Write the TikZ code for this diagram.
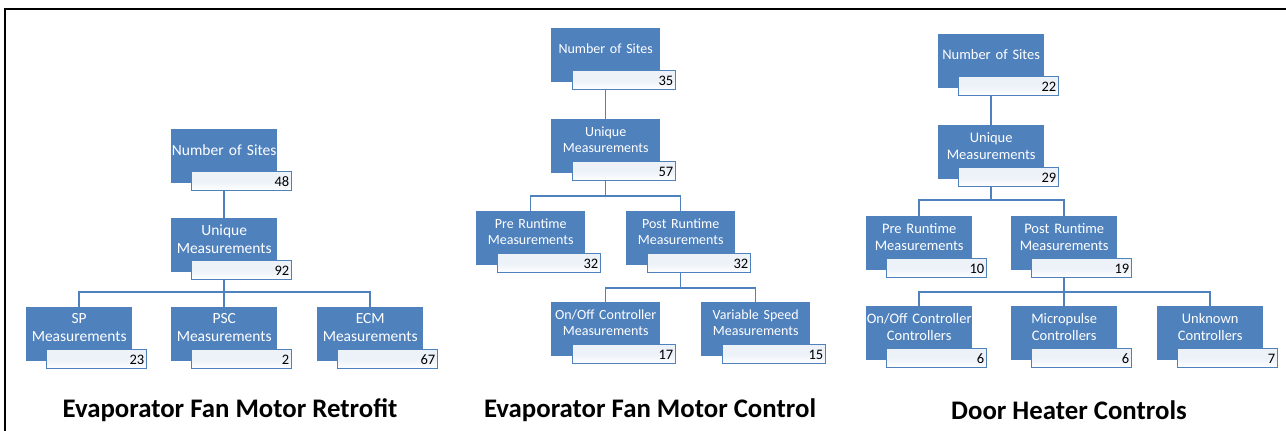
\documentclass[tikz,border=0pt]{standalone}
\usepackage{fontspec}
\setmainfont{Carlito}
\definecolor{boxblue}{HTML}{4F81BD}
\definecolor{valfill}{HTML}{EDF2F9}
\tikzset{
  bluebox/.style={fill=boxblue, draw=none, minimum height=54pt, inner sep=0pt},
  valbox/.style={draw=boxblue, line width=1.4pt, top color=valfill, bottom color=white, middle color=valfill, minimum height=19pt, inner sep=0pt},
  lbl/.style={text=white, align=center, inner sep=0pt, font=\lblfont},
  num/.style={text=black, inner sep=0pt, font=\fontsize{14.5}{16}\selectfont},
  conn/.style={draw=boxblue, line width=1.5pt},
  ttl/.style={font=\fontsize{26.8}{30}\selectfont\bfseries, inner sep=0pt},
}
\newcommand\lblfont{\fontsize{14}{16}\selectfont}
\newcommand\orgbox[7]{% name, x, y, width, label, number, value-box dx
  \node[bluebox, minimum width=#4pt, anchor=north west] (#1) at (#2,#3) {};
  \node[valbox, minimum width=#4pt-6pt, anchor=north west] (#1v) at (#2+#7,#3+42) {};
  \node[lbl, text width=#4pt] (#1t) at ([yshift=-21pt]#1.north) {#5};
  \node[num, anchor=east] (#1n) at ([xshift=-3pt,yshift=-0.5pt]#1v.east) {#6};
}
\begin{document}
\begin{tikzpicture}[x=1pt,y=-1pt]
\useasboundingbox (0,0) rectangle (1286,431);
\fill[white] (0,0) rectangle (1286,431);
\draw[line width=2pt] (5,431) -- (5,9) -- (1286,9);

% ---------- Panel 1 ----------
\begin{scope}
\renewcommand\lblfont{\fontsize{15.5}{18}\selectfont}
\coordinate (n1b) at (224,182);
\coordinate (u1top) at (224,218);
\coordinate (u1b) at (224,271);
\coordinate (bus1) at (224,292);
\draw[conn] (n1b) -- (u1top);
\draw[conn] (u1b) -- (bus1);
\draw[conn] (79,307) coordinate (sptop) |- (bus1) -| (370,307) coordinate (ecmtop);
\draw[conn] (bus1) -- (224,307);
\orgbox{n1}{171}{129}{106}{Number of Sites}{48}{20}
\orgbox{u1}{171}{218}{106}{Unique\\Measurements}{92}{20}
\orgbox{sp}{26}{307}{106}{SP\\Measurements}{23}{20}
\orgbox{psc}{171}{307}{106}{PSC\\Measurements}{2}{20}
\orgbox{ecm}{317}{307}{106}{ECM\\Measurements}{67}{20}
\node[ttl] (t1) at (230,410) {Evaporator Fan Motor Retrofit};
\end{scope}

% ---------- Panel 2 ----------
\begin{scope}
\renewcommand\lblfont{\fontsize{14}{16}\selectfont}
\coordinate (p2b) at (605.5,196);
\coordinate (p2c) at (680.5,288);
\draw[conn] (605.5,83) -- (605.5,119);
\draw[conn] (p2b) -- (605.5,174);
\draw[conn] (530.5,211) |- (p2b) -| (680.5,211);
\draw[conn] (p2c) -- (680.5,266);
\draw[conn] (605.5,302) |- (p2c) -| (755.5,302);
\orgbox{n2}{551}{28}{109}{Number of Sites}{35}{21}
\orgbox{u2}{551}{119}{109}{Unique\\Measurements}{57}{21}
\orgbox{pre2}{476}{211}{109}{Pre Runtime\\Measurements}{32}{21}
\orgbox{post2}{626}{211}{109}{Post Runtime\\Measurements}{32}{21}
\orgbox{oo2}{551}{302}{109}{On/Off Controller\\Measurements}{17}{21}
\orgbox{vs2}{701}{302}{109}{Variable Speed\\Measurements}{15}{21}
\node[ttl] (t2) at (650,410) {Evaporator Fan Motor Control};
\end{scope}

% ---------- Panel 3 ----------
\begin{scope}
\renewcommand\lblfont{\fontsize{14.5}{17}\selectfont}
\coordinate (p3b) at (991,200);
\coordinate (p3c) at (1064,292);
\draw[conn] (991,89) -- (991,125);
\draw[conn] (p3b) -- (991,179);
\draw[conn] (919,216) |- (p3b) -| (1064,216);
\draw[conn] (p3c) -- (1064,269);
\draw[conn] (919,306) |- (p3c) -| (1210,306);
\draw[conn] (p3c) -- (1064,306);
\orgbox{n3}{938}{34}{106}{Number of Sites}{22}{20}
\orgbox{u3}{938}{125}{106}{Unique\\Measurements}{29}{20}
\orgbox{pre3}{866}{216}{106}{Pre Runtime\\Measurements}{10}{20}
\orgbox{post3}{1011}{216}{106}{Post Runtime\\Measurements}{19}{20}
\orgbox{oo3}{866}{306}{106}{On/Off Controller\\Controllers}{6}{20}
\orgbox{mp3}{1011}{306}{106}{Micropulse\\Controllers}{6}{20}
\orgbox{uk3}{1157}{306}{106}{Unknown\\Controllers}{7}{20}
\node[ttl] (t3) at (1069,410) {Door Heater Controls};
\end{scope}
\end{tikzpicture}
\end{document}
